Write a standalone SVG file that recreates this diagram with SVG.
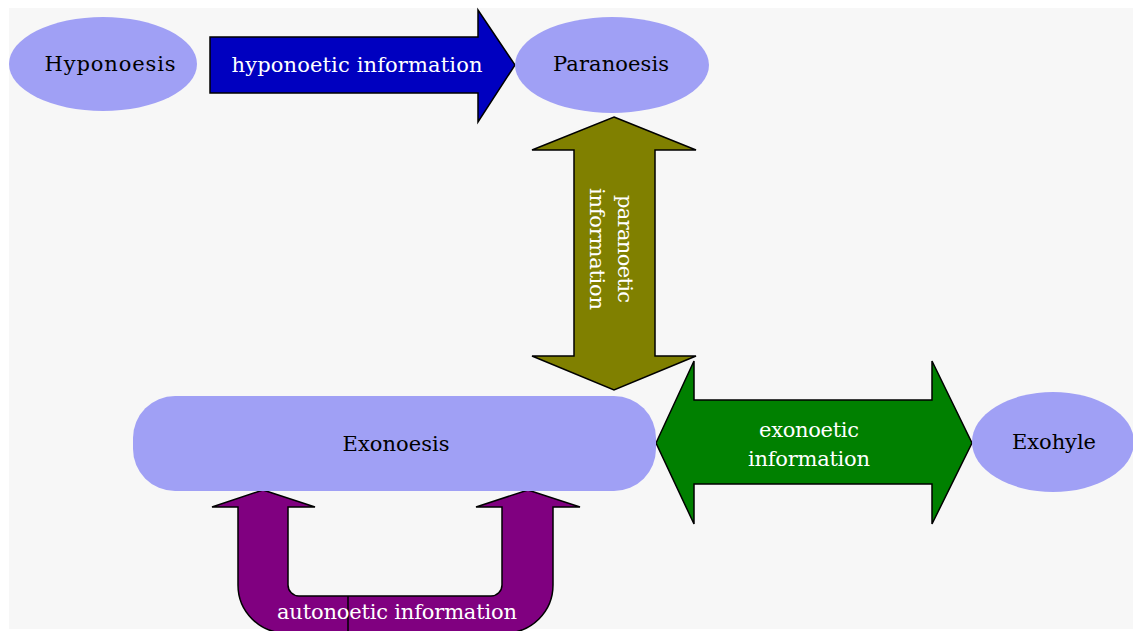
<svg xmlns="http://www.w3.org/2000/svg" width="1133" height="631" viewBox="0 0 1133 631">
  <style>
    .node { fill: #a0a0f5; }
    .arrow { stroke: #000000; stroke-width: 1.5; stroke-linejoin: miter; }
    .nlabel { font-family: "DejaVu Serif", "Liberation Serif", serif; font-size: 21px; fill: #000000; text-anchor: middle; }
    .alabel { font-family: "DejaVu Serif", "Liberation Serif", serif; font-size: 21px; fill: #ffffff; text-anchor: middle; }
  </style>
  <rect x="0" y="0" width="1133" height="631" fill="#ffffff"/>
  <rect x="9" y="8" width="1124" height="621" fill="#f7f7f7"/>

  <g id="connectors">
    <g id="hyponoetic-information">
      <path class="arrow" fill="#0000c0" d="M210,37 L478,37 L478,10 L515,65 L478,122 L478,93 L210,93 Z"/>
      <text class="alabel" x="357" y="72" textLength="251" lengthAdjust="spacing">hyponoetic information</text>
    </g>
    <g id="paranoetic-information">
      <path class="arrow" fill="#808000" d="M614,117 L696,150 L655,150 L655,356 L696,356 L614,390 L532,356 L574,356 L574,150 L532,150 Z"/>
      <g transform="translate(604,249) rotate(90)">
        <text class="alabel" x="0" y="-14" textLength="108" lengthAdjust="spacing">paranoetic</text>
        <text class="alabel" x="0" y="14" textLength="122" lengthAdjust="spacing">information</text>
      </g>
    </g>
    <g id="exonoetic-information">
      <path class="arrow" fill="#008000" d="M656,443 L694,361 L694,400 L932,400 L932,361 L972,443 L932,524 L932,484 L694,484 L694,524 Z"/>
      <text class="alabel" x="809" y="437" textLength="100" lengthAdjust="spacing">exonoetic</text>
      <text class="alabel" x="809" y="466" textLength="122" lengthAdjust="spacing">information</text>
    </g>
    <g id="autonoetic-information">
      <path class="arrow" fill="#800080" d="M263,490 L315,507 L288,507 L288,585 A11,11 0 0 0 299,596 L491,596 A11,11 0 0 0 502,585 L502,507 L476,507 L528,490 L580,507 L553,507 L553,585 A48,48 0 0 1 505,633 L286,633 A48,48 0 0 1 238,585 L238,507 L212,507 Z"/>
      <line x1="348" y1="596" x2="348" y2="633" stroke="#000000" stroke-width="1.5"/>
      <text class="alabel" x="397" y="619" textLength="240" lengthAdjust="spacing">autonoetic information</text>
    </g>
  </g>

  <g id="hyponoesis">
    <ellipse class="node" cx="103" cy="64" rx="94" ry="47"/>
    <text class="nlabel" x="110" y="71" textLength="131" lengthAdjust="spacing">Hyponoesis</text>
  </g>
  <g id="paranoesis">
    <ellipse class="node" cx="612" cy="65" rx="97" ry="48"/>
    <text class="nlabel" x="611" y="71" textLength="116" lengthAdjust="spacing">Paranoesis</text>
  </g>
  <g id="exonoesis">
    <rect class="node" x="133" y="396" width="523" height="95" rx="42" ry="42"/>
    <text class="nlabel" x="396" y="451" textLength="107" lengthAdjust="spacing">Exonoesis</text>
  </g>
  <g id="exohyle">
    <ellipse class="node" cx="1053" cy="442" rx="81" ry="50"/>
    <text class="nlabel" x="1054" y="449" textLength="84" lengthAdjust="spacing">Exohyle</text>
  </g>
</svg>
